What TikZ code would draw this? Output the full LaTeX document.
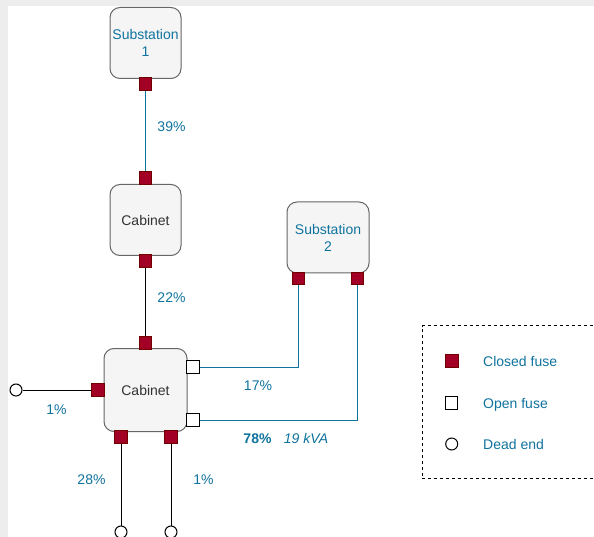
\documentclass[tikz,border=0pt]{standalone}
\usepackage{fontspec}
\setmainfont{Liberation Sans}
\definecolor{tealtxt}{HTML}{10739E}
\definecolor{fusered}{HTML}{A20025}
\definecolor{fuseedge}{HTML}{6F0000}
\begin{document}
\begin{tikzpicture}[
  box/.style={rectangle, draw=black!60, line width=1pt, fill=black!4, rounded corners=10pt, minimum width=71pt, minimum height=71pt, align=center, inner sep=0pt},
  closed/.style={rectangle, draw=fuseedge, line width=0.6pt, fill=fusered, minimum size=12.5pt, inner sep=0pt},
  open/.style={rectangle, draw=black, line width=1pt, fill=white, minimum size=12.5pt, inner sep=0pt},
  deadend/.style={circle, draw=black, line width=1pt, fill=white, minimum size=12pt, inner sep=0pt},
  lab/.style={text=tealtxt, inner sep=0pt, text depth=0pt},
  feed/.style={draw=tealtxt, line width=1pt},
  tail/.style={draw=black, line width=1pt},
  node distance=41pt,
  font=\fontsize{14}{17}\selectfont
]
\useasboundingbox (0,0) rectangle (594pt,-537pt);
\fill[black!7] (0,0) rectangle (594pt,-537pt);
\fill[white] (8pt,-6pt) rectangle (594pt,-537pt);

\node[box, text=tealtxt] (sub1) at (145.5pt,-43pt) {Substation\\1};
\node[box, below of=sub1, node distance=177pt, text=black!80] (cab1) {Cabinet};
\node[box, below of=cab1, node distance=170pt, minimum width=83pt, minimum height=83pt, text=black!80] (cab2) {Cabinet};
\node[box, minimum width=82pt, text=tealtxt] (sub2) at (328pt,-237.5pt) {Substation\\2};

\node[closed, below of=sub1] (fuseA) {};
\node[closed, above of=cab1, node distance=42pt] (fuseB) {};
\node[closed, below of=cab1] (fuseC) {};
\node[closed, above of=cab2, node distance=47pt] (fuseD) {};
\node[closed, left of=cab2, node distance=47.5pt] (fuseE) {};
\node[closed, below of=cab2, node distance=47pt, xshift=-24.5pt] (fuseF) {};
\node[closed, below of=cab2, node distance=47pt, xshift=25.5pt] (fuseG) {};
\node[open, right of=cab2, node distance=47.5pt, yshift=23pt] (openA) {};
\node[open, right of=cab2, node distance=47.5pt, yshift=-30pt] (openB) {};
\node[closed, below of=sub2, xshift=-29.5pt] (fuseH) {};
\node[closed, below of=sub2, xshift=29.5pt] (fuseI) {};

\node[deadend, left of=fuseE, node distance=82pt] (endA) {};
\node[deadend, below of=fuseF, node distance=95pt] (endB) {};
\node[deadend, below of=fuseG, node distance=95pt] (endC) {};

\draw[feed] (fuseA) -- (fuseB);
\draw[tail] (fuseC) -- (fuseD);
\draw[tail] (endA) -- (fuseE);
\draw[tail] (fuseF) -- (endB);
\draw[tail] (fuseG) -- (endC);
\draw[feed] (fuseH) |- (openA);
\draw[feed] (fuseI) |- (openB);

% Labels
\node[lab, right of=sub1, node distance=26pt, yshift=-84pt] (labA) {39\%};
\node[lab, right of=cab1, node distance=26pt, yshift=-78pt] (labB) {22\%};
\node[lab, right of=cab2, node distance=112.5pt, yshift=4pt] (labC) {17\%};
\node[lab, left of=cab2, node distance=89pt, yshift=-19.5pt] (labD) {1\%};
\node[lab, left of=cab2, node distance=54pt, yshift=-89.5pt] (labE) {28\%};
\node[lab, right of=cab2, node distance=58pt, yshift=-90pt] (labF) {1\%};
\node[lab, right of=cab2, node distance=112pt, yshift=-48.5pt] (labG) {\textbf{78\%}};
\node[lab, right of=labG, node distance=48.5pt] (labH) {\textit{19 kVA}};

% Legend
\node[rectangle, draw=black, line width=1pt, dashed, minimum width=180pt, minimum height=152.5pt, inner sep=0pt] (legend) at (512pt,-402pt) {};
\node[closed, fill=fusered, at={(451.7pt,-361pt)}] (keyA) {};
\node[open, below of=keyA, node distance=42pt] (keyB) {};
\node[deadend, below of=keyB] (keyC) {};
\node[lab, right of=keyA, node distance=31.3pt, anchor=west] (txtA) {Closed fuse};
\node[lab, right of=keyB, node distance=31.3pt, anchor=west] (txtB) {Open fuse};
\node[lab, right of=keyC, node distance=31.3pt, anchor=west] (txtC) {Dead end};
\end{tikzpicture}
\end{document}
